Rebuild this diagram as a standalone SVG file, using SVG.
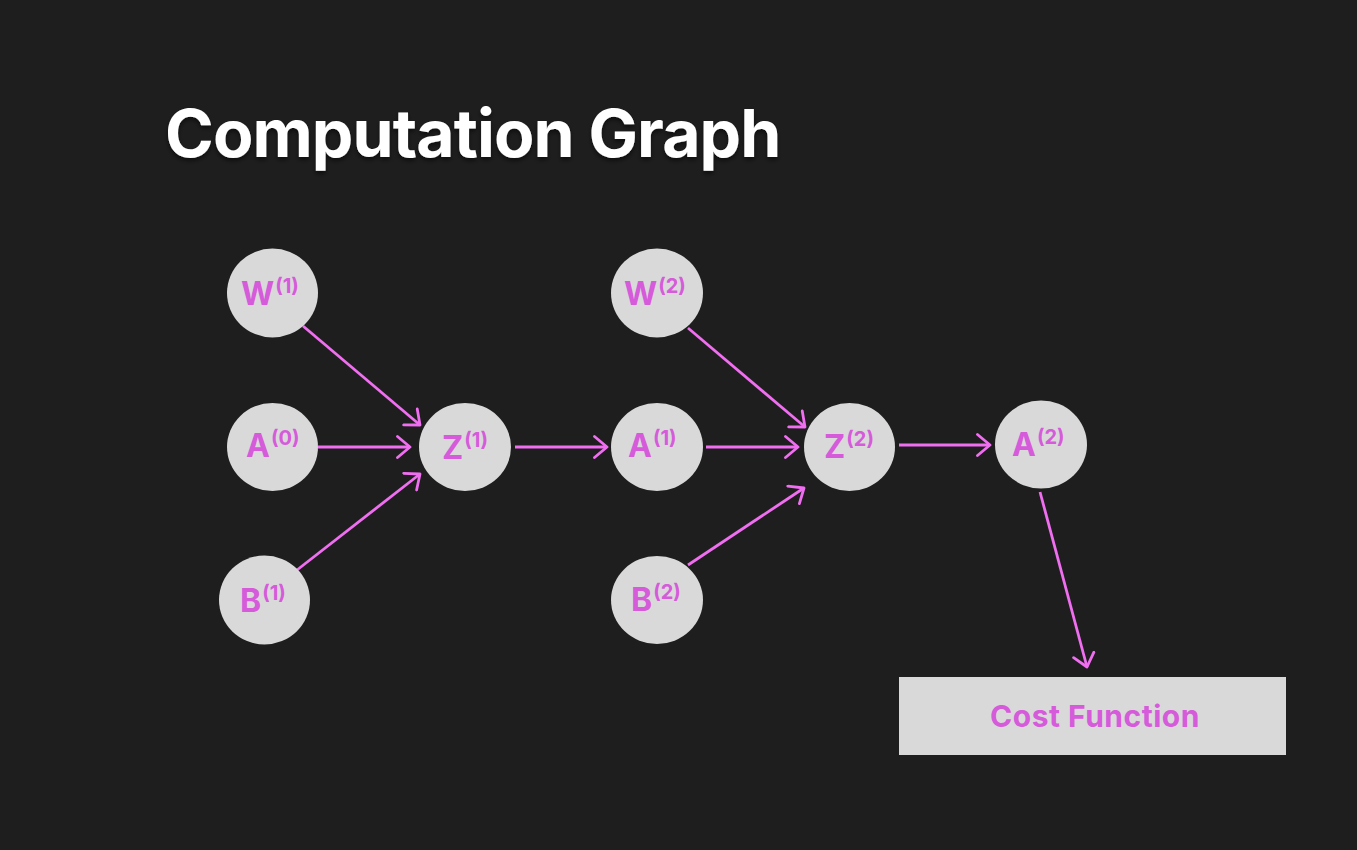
<svg xmlns="http://www.w3.org/2000/svg" width="1357" height="850" viewBox="0 0 1357 850">
<style>
.node{fill:#D9D9D9}
.lbl{font-family:Inter,"Liberation Sans",sans-serif;font-weight:700;fill:#D65BDB;font-size:32px}
.sup{font-size:20px}
.edge{stroke:#F06EF0;stroke-width:2.8;fill:none;marker-end:url(#arr)}
.title{font-family:Inter,"Liberation Sans",sans-serif;font-weight:700;fill:#FFFFFF;font-size:66px;letter-spacing:-0.9px}
</style>
<defs>
<marker id="arr" markerUnits="userSpaceOnUse" viewBox="-14 -12 16 24" refX="0" refY="0" markerWidth="16" markerHeight="24" orient="auto">
<path d="M -12.5 -10.5 L 0 0 L -12.5 10.5" fill="none" stroke="#F06EF0" stroke-width="2.8" stroke-linecap="round" stroke-linejoin="round"/>
</marker>
<filter id="sh" x="-5%" y="-20%" width="110%" height="140%">
<feDropShadow dx="0" dy="3" stdDeviation="2" flood-color="#000" flood-opacity="0.5"/>
</filter>
</defs>
<rect width="1357" height="850" fill="#1E1E1E"/>
<text class="title" x="165" y="157" filter="url(#sh)">Computation Graph</text>

<g id="connectors">
<line class="edge" x1="303" y1="326" x2="420" y2="425"/>
<line class="edge" x1="318" y1="447" x2="410" y2="447"/>
<line class="edge" x1="297" y1="570" x2="420" y2="474"/>
<line class="edge" x1="515" y1="447" x2="607" y2="447"/>
<line class="edge" x1="688" y1="328" x2="805" y2="427"/>
<line class="edge" x1="706" y1="447" x2="798" y2="447"/>
<line class="edge" x1="688" y1="565" x2="804" y2="488"/>
<line class="edge" x1="899" y1="445" x2="990" y2="445"/>
<line class="edge" x1="1040" y1="492" x2="1087" y2="667"/>
</g>

<g id="W1"><ellipse class="node" cx="272.5" cy="293" rx="45.5" ry="44.5"/><text class="lbl" x="241" y="305">W<tspan class="sup" dx="1" dy="-12">(1)</tspan></text></g>
<g id="A0"><ellipse class="node" cx="272.5" cy="447" rx="45.5" ry="44"/><text class="lbl" x="246" y="457">A<tspan class="sup" dx="1" dy="-12">(0)</tspan></text></g>
<g id="B1"><ellipse class="node" cx="264.5" cy="600" rx="45.5" ry="44.5"/><text class="lbl" x="240" y="612">B<tspan class="sup" dx="1" dy="-12">(1)</tspan></text></g>
<g id="Z1"><ellipse class="node" cx="465" cy="447" rx="46" ry="44"/><text class="lbl" x="442" y="459">Z<tspan class="sup" dx="1" dy="-12">(1)</tspan></text></g>
<g id="W2"><ellipse class="node" cx="657" cy="293" rx="46" ry="44.5"/><text class="lbl" x="624" y="305">W<tspan class="sup" dx="1" dy="-12">(2)</tspan></text></g>
<g id="A1"><ellipse class="node" cx="657" cy="447" rx="46" ry="44"/><text class="lbl" x="628" y="457">A<tspan class="sup" dx="1" dy="-12">(1)</tspan></text></g>
<g id="B2"><ellipse class="node" cx="657" cy="600" rx="46" ry="44"/><text class="lbl" x="631" y="611">B<tspan class="sup" dx="1" dy="-12">(2)</tspan></text></g>
<g id="Z2"><ellipse class="node" cx="849.5" cy="447" rx="45.5" ry="44"/><text class="lbl" x="824" y="458">Z<tspan class="sup" dx="1" dy="-12">(2)</tspan></text></g>
<g id="A2"><ellipse class="node" cx="1041" cy="444.5" rx="46" ry="44"/><text class="lbl" x="1012" y="456">A<tspan class="sup" dx="1" dy="-12">(2)</tspan></text></g>
<g id="Cost"><rect class="node" x="899" y="677" width="387" height="78"/><text class="lbl" x="1095" y="727" text-anchor="middle" style="font-size:30px;letter-spacing:0.5px">Cost Function</text></g>
</svg>
